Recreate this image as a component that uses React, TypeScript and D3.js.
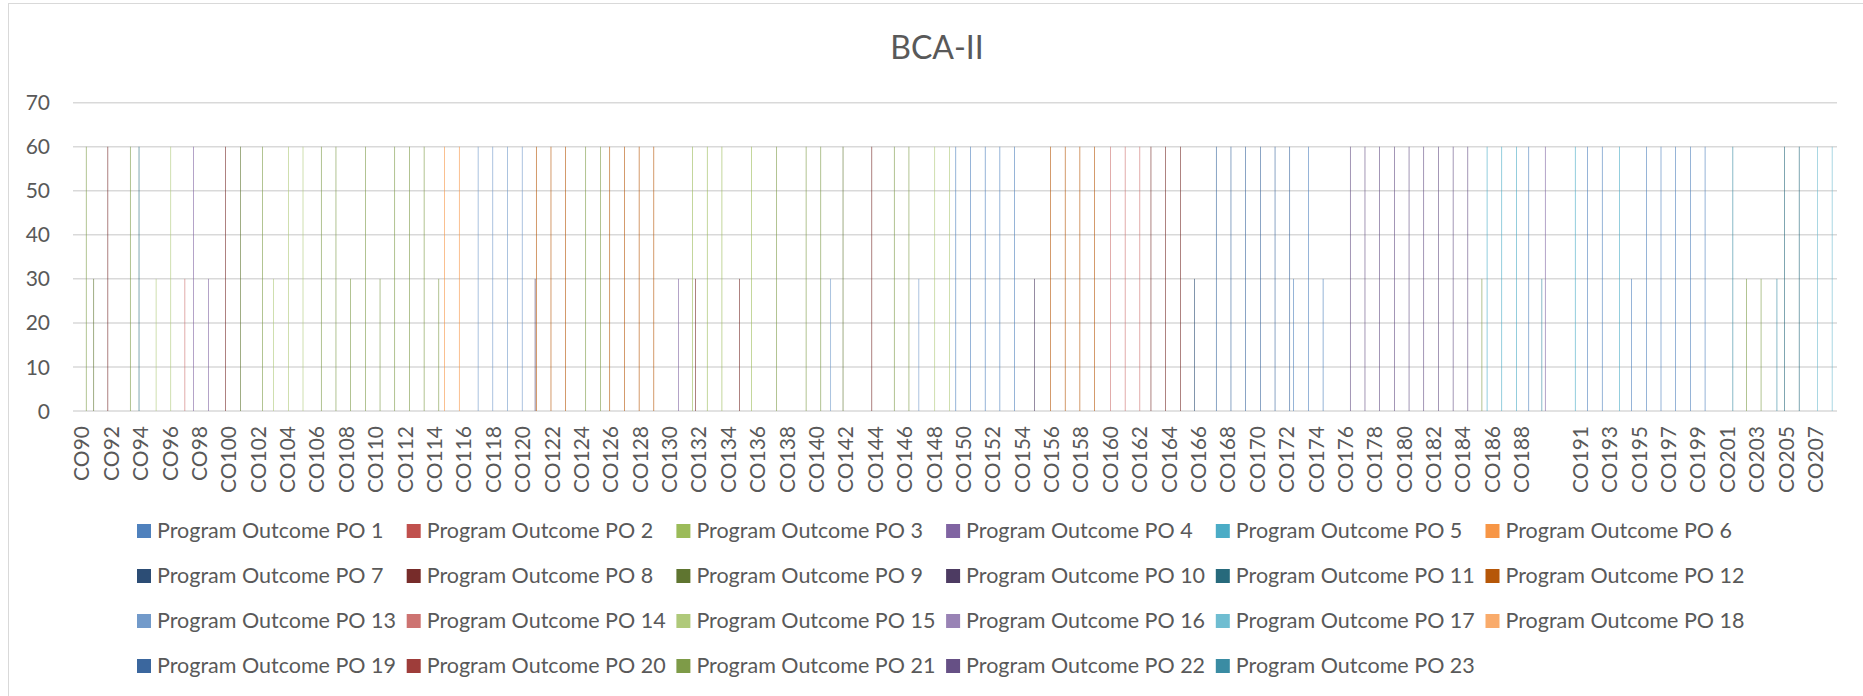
import * as d3 from "d3";

const title = "BCA-II";

// category axis: CO90..CO189, one unnamed slot, CO190..CO208
const courses = [
  ...d3.range(90, 190).map((n) => `CO${n}`),
  "",
  ...d3.range(190, 209).map((n) => `CO${n}`),
];

const outcomes = d3.range(1, 24).map((n) => `Program Outcome PO ${n}`);

const outcomeColors = [
  "#4F81BD", "#C0504D", "#9BBB59", "#8064A2", "#4BACC6", "#F79646",
  "#2C4D75", "#772C2A", "#5F7530", "#4D3B62", "#276A7C", "#B65708",
  "#729ACA", "#CD7371", "#AFC97A", "#9983B5", "#6FBDD1", "#F9AB6B",
  "#3B679E", "#9E3D3A", "#7E9B48", "#665085", "#3A8CA3",
];

const yTicks = [0, 10, 20, 30, 40, 50, 60, 70];

// [course, PO number, level] - every pair not listed is 0
const mappings: [string, number, number][] = [
  ["CO90", 21, 60], ["CO91", 9, 30], ["CO92", 8, 60], ["CO93", 21, 60],
  ["CO94", 11, 60], ["CO95", 15, 30], ["CO96", 15, 60], ["CO97", 14, 30],
  ["CO98", 4, 60], ["CO99", 4, 30], ["CO100", 8, 60], ["CO101", 9, 60],
  ["CO102", 21, 60], ["CO103", 15, 30], ["CO104", 15, 60], ["CO105", 15, 60],
  ["CO106", 21, 60], ["CO107", 21, 60], ["CO108", 21, 30], ["CO109", 21, 60],
  ["CO110", 21, 30], ["CO111", 21, 60], ["CO112", 21, 60], ["CO113", 21, 60],
  ["CO114", 21, 30], ["CO115", 6, 60], ["CO116", 6, 60], ["CO117", 13, 60],
  ["CO118", 13, 60], ["CO119", 13, 60], ["CO120", 13, 60], ["CO121", 10, 30],
  ["CO121", 12, 60], ["CO122", 12, 60], ["CO123", 12, 60], ["CO124", 21, 60],
  ["CO125", 21, 60], ["CO126", 12, 60], ["CO127", 12, 60], ["CO128", 12, 60],
  ["CO129", 12, 60], ["CO131", 4, 30], ["CO132", 3, 60], ["CO132", 8, 30],
  ["CO133", 3, 60], ["CO134", 3, 60], ["CO135", 8, 30], ["CO136", 3, 60],
  ["CO137", 21, 60], ["CO139", 21, 60], ["CO140", 21, 60], ["CO141", 13, 30],
  ["CO142", 9, 60], ["CO144", 8, 60], ["CO145", 21, 60], ["CO146", 21, 60],
  ["CO147", 13, 30], ["CO148", 15, 60], ["CO149", 15, 60], ["CO150", 1, 60],
  ["CO151", 1, 60], ["CO152", 1, 60], ["CO153", 1, 60], ["CO154", 1, 60],
  ["CO155", 10, 30], ["CO156", 12, 60], ["CO157", 12, 60], ["CO158", 12, 60],
  ["CO159", 12, 60], ["CO160", 14, 60], ["CO161", 14, 60], ["CO162", 14, 60],
  ["CO163", 8, 60], ["CO164", 8, 60], ["CO165", 8, 60], ["CO166", 7, 30],
  ["CO167", 19, 60], ["CO168", 19, 60], ["CO169", 19, 60], ["CO170", 19, 60],
  ["CO171", 19, 60], ["CO172", 19, 60], ["CO173", 1, 30], ["CO174", 1, 60],
  ["CO175", 1, 30], ["CO176", 22, 60], ["CO177", 22, 60], ["CO178", 22, 60],
  ["CO179", 22, 60], ["CO180", 22, 60], ["CO181", 22, 60], ["CO182", 22, 60],
  ["CO183", 22, 60], ["CO184", 22, 60], ["CO185", 21, 30], ["CO186", 5, 60],
  ["CO187", 5, 60], ["CO188", 5, 60], ["CO189", 1, 60], ["CO189", 23, 30],
  ["", 4, 60], ["CO191", 5, 60], ["CO192", 1, 60], ["CO193", 1, 60],
  ["CO194", 5, 60], ["CO195", 1, 30], ["CO196", 1, 60], ["CO197", 1, 60],
  ["CO198", 1, 60], ["CO199", 1, 60], ["CO200", 1, 60], ["CO201", 23, 60],
  ["CO202", 21, 30], ["CO203", 21, 30], ["CO204", 23, 30], ["CO205", 11, 60],
  ["CO206", 11, 60], ["CO207", 17, 60], ["CO208", 17, 60],
];

const width = 1863;
const height = 696;
const plotLeft = 73;
const plotRight = 1837;
const plotTop = 102.7;
const plotBottom = 411;
const font = "Lato, 'Open Sans', sans-serif";
const textColor = "#595959";
const gridColor = "#D9D9D9";

// legend grid
const legendX = 137;
const legendColW = 269.7;
const legendY = 524;
const legendRowH = 45;

export default function App() {
  const x0 = d3
    .scaleBand<string>()
    .domain(courses)
    .range([plotLeft, plotRight])
    .padding(0.068);

  const x1 = d3
    .scaleBand<number>()
    .domain(d3.range(outcomes.length))
    .range([0, x0.bandwidth()]);

  const y = d3.scaleLinear().domain([0, 70]).range([plotBottom, plotTop]);

  return (
    <div style={{ position: "absolute", left: 0, top: 0 }}>
      <svg width={width} height={height} style={{ display: "block" }}>
        <rect
          x={8.5}
          y={3.5}
          width={width + 10}
          height={height + 10}
          fill="#fff"
          stroke={gridColor}
        />
        <text
          x={937}
          y={59}
          textAnchor="middle"
          fontFamily={font}
          fontSize={32}
          fill={textColor}
        >
          {title}
        </text>

        {/* gridlines + y labels */}
        {yTicks.map((t) => (
          <g key={t}>
            <line
              x1={plotLeft}
              x2={plotRight}
              y1={y(t)}
              y2={y(t)}
              stroke={gridColor}
              strokeWidth={1.5}
            />
            <text
              x={50}
              y={y(t)}
              dy="0.36em"
              textAnchor="end"
              fontFamily={font}
              fontSize={21}
              fill={textColor}
            >
              {t}
            </text>
          </g>
        ))}

        {/* bars */}
        {mappings.map(([co, po, v], i) => (
          <rect
            key={i}
            x={(x0(co) ?? 0) + (x1(po - 1) ?? 0)}
            y={y(v)}
            width={x1.bandwidth()}
            height={y(0) - y(v)}
            fill={outcomeColors[po - 1]}
          />
        ))}

        {/* category labels, every other one */}
        {courses.map((co, i) =>
          i % 2 === 0 ? (
            <text
              key={`l${i}`}
              transform={`translate(${(x0(co) ?? 0) + x0.bandwidth() / 2 + 1},${426}) rotate(-90)`}
              textAnchor="end"
              dy="0.36em"
              fontFamily={font}
              fontSize={21}
              fill={textColor}
            >
              {co}
            </text>
          ) : null
        )}

        {/* legend */}
        {outcomes.map((name, i) => {
          const col = i % 6;
          const row = Math.floor(i / 6);
          const lx = legendX + col * legendColW;
          const ly = legendY + row * legendRowH;
          return (
            <g key={name}>
              <rect x={lx} y={ly} width={14} height={14} fill={outcomeColors[i]} />
              <text
                x={lx + 20}
                y={ly + 14}
                fontFamily={font}
                fontSize={21.5}
                fill={textColor}
              >
                {name}
              </text>
            </g>
          );
        })}
      </svg>
    </div>
  );
}
